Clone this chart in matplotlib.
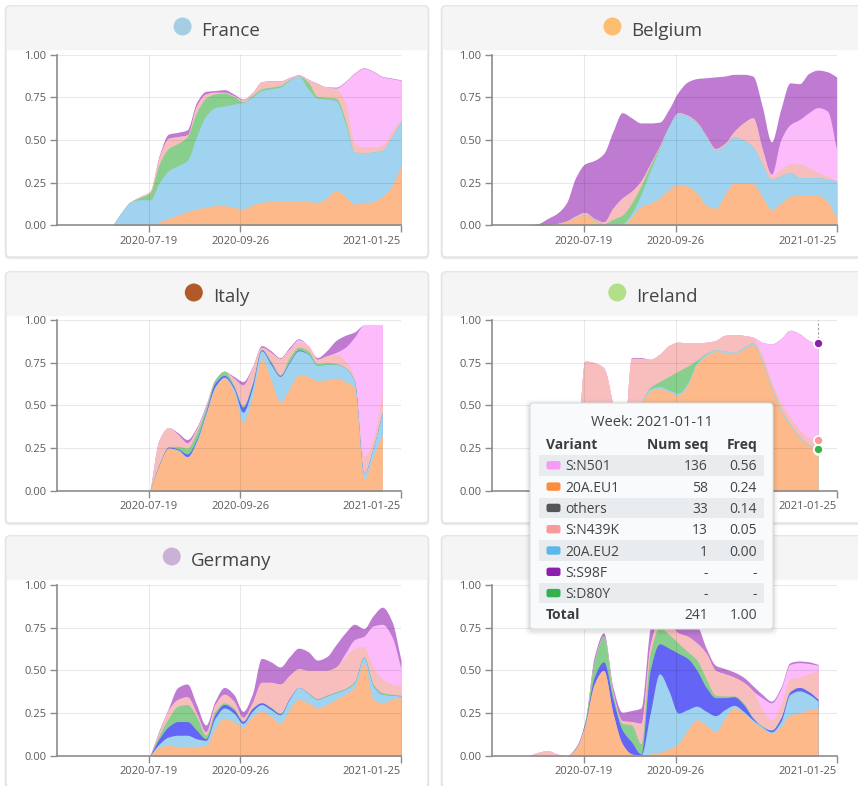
import numpy as np
import matplotlib
matplotlib.use("Agg")
import matplotlib.pyplot as plt
import matplotlib.dates as mdates
from matplotlib.patches import FancyBboxPatch, Rectangle, Circle

plt.rcParams["font.family"] = ["Open Sans", "DejaVu Sans"]

W, H = 858, 786

# ---------------------------------------------------------------- data
WEEK0 = np.datetime64("2020-05-11")
N_WEEKS = 38
WEEKS = WEEK0 + np.arange(N_WEEKS) * np.timedelta64(7, "D")

X_TICKS = ["2020-07-19", "2020-09-26", "2021-01-25"]
Y_TICKS = [0.0, 0.25, 0.50, 0.75, 1.00]

# stacking order, bottom to top
VARIANTS = ["20A.EU1", "20A.EU2", "S:L18F", "S:D80Y", "S:N439K", "S:N501", "S:S98F"]

FILL = {
    "20A.EU1": "#fdb98a",
    "20A.EU2": "#9fd3ef",
    "S:L18F": "#6464f6",
    "S:D80Y": "#88cf8d",
    "S:N439K": "#f8bebe",
    "S:N501": "#fcbcfc",
    "S:S98F": "#bf7ad2",
}
SOLID = {
    "20A.EU1": "#fd8d3c",
    "20A.EU2": "#5cb8ea",
    "S:L18F": "#2a2af0",
    "S:D80Y": "#34b04c",
    "S:N439K": "#f89a9a",
    "S:N501": "#f59af5",
    "S:S98F": "#8e1fae",
    "others": "#555555",
}

# France: weekly frequencies from week 6
FR_START = 6
FR_EU1 = [0, 0, 0, 0, 0, .02, .04, .06, .08, .095, .105, .115, .115, .105, .095, .12,
          .135, .14, .145, .145, .145, .14, .135, .16, .205, .17, .125, .13, .14, .17, .23, .35]
FR_EU2 = [0, .08, .14, .15, .15, .23, .28, .29, .30, .425, .535, .575, .585, .605, .625, .63,
          .655, .66, .665, .705, .73, .66, .61, .58, .525, .43, .305, .295, .29, .27, .29, .26]
FR_D80Y = [0, 0, 0, .015, .04, .11, .13, .13, .14, .14, .105, .08, .075, .045, .005, .01,
           .01, .01, .01, .005, 0, .04, .01, .01, .015, .02, 0, 0, 0, 0, 0, 0]
FR_N439K = [0, 0, 0, .005, .01, .04, .06, .04, .01, .04, .025, .01, .005, .005, .01, .015,
            .04, .035, .025, .01, .005, .015, .075, .06, .055, .10, .05, .035, .03, .03, .03, .01]
FR_N501 = [0, 0, 0, 0, 0, 0, 0, 0, 0, 0, 0, 0, 0, 0, 0, 0,
           0, 0, 0, 0, 0, 0, 0, 0, .005, .12, .41, .46, .44, .40, .31, .23]
FR_S98F = [0, 0, 0, 0, 0, .01, .025, .025, .03, .02, .015, .01, .015, .01, .005, .002,
           .002, .002, .002, .002, .002, .002, .002, .002, .005, .003, .003, .003, .003, .003, .003, .003]

# Belgium: from week 4
BE_START = 4
BE_EU1 = [0, 0, 0, .01, .025, .045, .06, .03, .005, 0, 0, .05, .11, .13, .16, .21, .24,
          .23, .19, .12, .10, .18, .25, .25, .245, .17, .09, .13, .17, .18, .18, .175, .14, .04]
BE_EU2 = [0, 0, 0, 0, 0, 0, .005, .005, 0, .005, .01, .02, .07, .19, .29, .37, .415,
          .41, .41, .40, .34, .29, .27, .25, .215, .19, .18, .16, .14, .10, .10, .105, .13, .22]
BE_D80Y = [0, 0, 0, 0, 0, 0, 0, 0, .005, .03, .05, .06, .05, .03, .01, 0, 0,
           0, 0, 0, 0, 0, 0, 0, 0, 0, 0, 0, 0, 0, 0, 0, 0, 0]
BE_N439K = [0, 0, 0, 0, 0, .01, .01, .005, .01, .065, .10, .07, .03, .01, .005, 0, .005,
            .005, .005, .005, .01, .01, .03, .10, .17, .09, .02, .04, .05, .08, .06, .03, .02, 0]
BE_N501 = [0, 0, 0, 0, 0, 0, 0, 0, 0, 0, 0, 0, 0, 0, 0, 0, 0,
           0, 0, 0, 0, 0, 0, 0, 0, 0, .01, .17, .23, .26, .32, .38, .38, .18]
BE_S98F = [0, .01, .04, .06, .105, .225, .285, .34, .40, .45, .50, .43, .34, .24, .14, .10, .12,
           .195, .255, .34, .42, .395, .335, .285, .245, .25, .19, .18, .245, .21, .23, .22, .23, .43]

# Italy: from week 10
IT_START = 10
IT_EU1 = [0, .15, .25, .235, .195, .28, .44, .60, .66, .58, .40, .55, .77,
          .65, .52, .60, .68, .67, .645, .65, .66, .64, .60, .07, .20, .33]
IT_EU2 = [0, 0, 0, .005, .005, .01, .01, .01, .005, .02, .06, .05, .05,
          .09, .15, .15, .14, .13, .09, .09, .08, .08, .04, .03, .05, .13]
IT_L18F = [0, .005, .005, .005, .015, .01, .01, .02, .01, .01, .03, .02, .005,
           .01, .005, .005, .005, 0, 0, 0, 0, 0, 0, 0, 0, 0]
IT_D80Y = [0, .005, .005, .015, .035, .04, .02, .02, .025, .01, .01, .01, .005,
           .01, .005, .025, .015, .02, .01, .01, .005, 0, 0, 0, 0, 0]
IT_N439K = [0, .14, .11, .07, .03, .02, .01, 0, 0, .04, .12, .09, .01,
            .05, .095, .05, .03, .03, .025, .04, .055, .04, .02, .10, .05, .12]
IT_N501 = [0, 0, 0, 0, 0, 0, 0, 0, 0, 0, 0, 0, 0,
           0, 0, 0, .015, 0, 0, 0, .01, .08, .24, .77, .67, .39]
IT_S98F = [0, 0, 0, .01, .02, .01, .01, 0, 0, .01, .02, .005, .01,
           .01, .005, .01, .005, 0, .01, .03, .07, .07, .03, 0, 0, 0]

# Ireland: from week 9, last week is 2021-01-11
IE_START = 9
IE_EU1 = [0, 0, 0, 0, 0, .05, .35, .50, .585, .60, .58, .56, .62, .74,
          .79, .815, .81, .80, .83, .855, .75, .60, .47, .38, .31, .265, .241]
IE_EU2 = [0, 0, 0, 0, 0, 0, 0, .01, .01, .01, .01, .012, .01, .01,
          .01, .01, .01, .01, .01, .01, .01, .01, .01, .008, .006, .005, .004]
IE_D80Y = [0, 0, 0, 0, 0, 0, 0, 0, .01, .03, .08, .128, .10, .015,
           .005, 0, 0, 0, 0, 0, 0, 0, 0, 0, 0, 0, 0]
IE_N439K = [0, .76, .75, .72, .50, .15, .425, .265, .165, .16, .18, .17, .135, .10,
            .065, .055, .09, .105, .07, .03, .04, .03, .04, .042, .044, .04, .054]
IE_N501 = [0, 0, 0, 0, 0, 0, 0, 0, 0, 0, 0, 0, 0, 0,
           0, 0, 0, 0, 0, .005, .07, .22, .37, .51, .56, .57, .564]
IE_S98F = [0, 0, 0, 0, 0, 0, .005, .005, 0, 0, 0, 0, 0, 0,
           0, 0, 0, 0, 0, 0, 0, 0, 0, 0, 0, 0, 0]

# Germany: from week 10
DE_START = 10
DE_EU1 = [0, .05, .06, .055, .055, .055, .06, .16, .22, .20, .17, .23, .26, .23,
          .19, .27, .33, .31, .28, .30, .33, .36, .40, .545, .33, .31, .33, .345]
DE_EU2 = [0, .02, .05, .065, .065, .045, .03, .06, .06, .05, .02, .03, .04, .04,
          .05, .06, .07, .055, .05, .05, .04, .03, .03, .03, .08, .05, .025, .005]
DE_L18F = [0, .03, .06, .08, .08, .05, .01, .02, .02, .02, .01, .015, .01, .01,
           .005, .005, 0, 0, 0, 0, 0, 0, 0, 0, 0, 0, 0, 0]
DE_D80Y = [0, .02, .05, .09, .10, .08, .02, .02, .01, .01, .005, .005, 0, .005,
           .005, 0, 0, .005, .005, .005, .005, .005, .005, .005, .01, .01, .005, .005]
DE_N439K = [0, .02, .05, .04, .045, .02, .02, .04, .05, .04, .02, .03, .12, .145,
            .17, .135, .11, .13, .165, .145, .145, .185, .195, .06, .10, .08, .06, .055]
DE_N501 = [0, 0, 0, 0, 0, 0, 0, 0, 0, 0, 0, 0, 0, 0,
           0, 0, 0, 0, 0, 0, 0, .02, .05, .06, .24, .32, .28, .10]
DE_S98F = [0, .01, .01, .07, .075, .05, .04, .02, .04, .04, .035, .05, .14, .12,
           .10, .11, .12, .11, .06, .08, .13, .12, .09, .045, .06, .10, .09, .05]

# sixth country: from week 4, last week is 2021-01-11
P6_START = 4
P6_EU1 = [0, 0, 0, 0, 0, .04, .18, .42, .50, .25, .07, .01, 0, .01, .02, .04,
          .07, .15, .21, .18, .14, .22, .28, .25, .20, .16, .13, .17, .24, .25, .27, .28]
P6_EU2 = [0, 0, 0, 0, 0, 0, 0, 0, 0, 0, 0, 0, .005, .24, .46, .34,
          .18, .12, .08, .08, .095, .05, .015, .01, .01, .01, .01, .03, .12, .13, .09, .04]
P6_L18F = [0, 0, 0, 0, 0, 0, .01, .04, .05, .08, .08, .07, .005, .25, .175, .25,
           .35, .30, .21, .14, .105, .07, .05, .04, .01, 0, .01, .02, .015, .02, .015, .01]
P6_D80Y = [0, 0, 0, 0, 0, 0, .01, .09, .15, .03, .04, .10, .06, .10, .095, .08,
           .06, .04, .06, .05, .015, .01, .005, .01, .005, .005, 0, 0, 0, 0, 0, 0]
P6_N439K = [0, .02, .03, .01, 0, 0, 0, 0, 0, .01, .015, .02, .12, .05, .05, .07,
            .06, .09, .10, .15, .145, .13, .11, .12, .155, .095, .06, .08, .075, .06, .105, .17]
P6_N501 = [0, 0, 0, 0, 0, 0, 0, 0, 0, 0, 0, 0, 0, 0, 0, 0,
           0, 0, 0, 0, 0, 0, 0, 0, 0, .07, .10, .09, .085, .085, .06, .03]
P6_S98F = [0, 0, 0, 0, 0, .01, 0, .03, .02, .03, .05, .065, .09, .10, .10, .10,
           .13, .08, .10, .03, .03, .03, .03, .03, .03, .02, .01, .01, .01, .01, .01, .005]

# hover tooltip for Ireland, week 2021-01-11
TIP_WEEK = "2021-01-11"
TIP_VARIANTS = ["S:N501", "20A.EU1", "others", "S:N439K", "20A.EU2", "S:S98F", "S:D80Y"]
TIP_COUNTS = [136, 58, 33, 13, 1, None, None]
TIP_TOTAL = 241

# Ireland's last week is drawn from the same counts the tooltip reports
_ie_last = {"20A.EU1": IE_EU1, "20A.EU2": IE_EU2, "S:N439K": IE_N439K,
            "S:N501": IE_N501, "S:S98F": IE_S98F, "S:D80Y": IE_D80Y}
for _name, _cnt in zip(TIP_VARIANTS, TIP_COUNTS):
    if _name in _ie_last:
        _ie_last[_name][-1] = (_cnt or 0) / TIP_TOTAL

PANELS = [
    ("France", "#a6cee3", FR_START,
     {"20A.EU1": FR_EU1, "20A.EU2": FR_EU2, "S:D80Y": FR_D80Y,
      "S:N439K": FR_N439K, "S:N501": FR_N501, "S:S98F": FR_S98F}),
    ("Belgium", "#fdbf6f", BE_START,
     {"20A.EU1": BE_EU1, "20A.EU2": BE_EU2, "S:D80Y": BE_D80Y,
      "S:N439K": BE_N439K, "S:N501": BE_N501, "S:S98F": BE_S98F}),
    ("Italy", "#b15928", IT_START,
     {"20A.EU1": IT_EU1, "20A.EU2": IT_EU2, "S:L18F": IT_L18F, "S:D80Y": IT_D80Y,
      "S:N439K": IT_N439K, "S:N501": IT_N501, "S:S98F": IT_S98F}),
    ("Ireland", "#b2df8a", IE_START,
     {"20A.EU1": IE_EU1, "20A.EU2": IE_EU2, "S:D80Y": IE_D80Y,
      "S:N439K": IE_N439K, "S:N501": IE_N501, "S:S98F": IE_S98F}),
    ("Germany", "#cab2d6", DE_START,
     {"20A.EU1": DE_EU1, "20A.EU2": DE_EU2, "S:L18F": DE_L18F, "S:D80Y": DE_D80Y,
      "S:N439K": DE_N439K, "S:N501": DE_N501, "S:S98F": DE_S98F}),
    (None, None, P6_START,
     {"20A.EU1": P6_EU1, "20A.EU2": P6_EU2, "S:L18F": P6_L18F, "S:D80Y": P6_D80Y,
      "S:N439K": P6_N439K, "S:N501": P6_N501, "S:S98F": P6_S98F}),
]

# ---------------------------------------------------------------- layout (pixels)
CARD_X = [6, 442]
CARD_Y = [6, 272, 536]
CARD_W, CARD_H = 422, 251
HEADER_H = 43.5
PLOT_X = [(57, 401), (491.7, 836.7)]
PLOT_Y = [(54.7, 225.3), (320, 490.7), (585, 755.7)]

# tooltip box (pixels)
TX, TY, TW, TH = 530, 403, 243, 226


def monotone(x, y, xs):
    """Monotone cubic Hermite curve through (x, y), evaluated at xs."""
    x = np.asarray(x, float)
    y = np.asarray(y, float)
    h = np.diff(x)
    d = np.diff(y) / h
    n = len(x)
    m = np.zeros(n)
    m[0], m[-1] = d[0], d[-1]
    for i in range(1, n - 1):
        if d[i - 1] * d[i] <= 0:
            m[i] = 0.0
        else:
            w1 = 2 * h[i] + h[i - 1]
            w2 = h[i] + 2 * h[i - 1]
            m[i] = (w1 + w2) / (w1 / d[i - 1] + w2 / d[i])
    if d[0] == 0:
        m[0] = 0.0
    if d[-1] == 0:
        m[-1] = 0.0
    idx = np.clip(np.searchsorted(x, xs, side="right") - 1, 0, n - 2)
    t = (xs - x[idx]) / h[idx]
    t2, t3 = t * t, t * t * t
    return ((2 * t3 - 3 * t2 + 1) * y[idx] + (t3 - 2 * t2 + t) * h[idx] * m[idx]
            + (-2 * t3 + 3 * t2) * y[idx + 1] + (t3 - t2) * h[idx] * m[idx + 1])


fig = plt.figure(figsize=(W / 100, H / 100), dpi=100)
bg = fig.add_axes([0, 0, 1, 1])
bg.set_xlim(0, W)
bg.set_ylim(H, 0)
bg.axis("off")
renderer = fig.canvas.get_renderer()

XMIN = mdates.date2num(WEEKS[0])
XMAX = mdates.date2num(WEEKS[-1])

hover = None
for p, (name, dot_color, start, series) in enumerate(PANELS):
    col, row = p % 2, p // 2
    cx0, cy0 = CARD_X[col], CARD_Y[row]

    # card with soft shadow
    for k, a in ((3, 0.025), (2, 0.04), (1, 0.06)):
        bg.add_patch(FancyBboxPatch((cx0 - k * 0.6, cy0 - k * 0.3), CARD_W + k * 1.2, CARD_H + k * 1.3,
                                    boxstyle="round,pad=0,rounding_size=5",
                                    fc=(0, 0, 0, a), ec="none", zorder=1))
    bg.add_patch(FancyBboxPatch((cx0, cy0), CARD_W, CARD_H,
                                boxstyle="round,pad=0,rounding_size=4",
                                fc="white", ec="#e2e2e2", lw=0.9, zorder=2))
    bg.add_patch(FancyBboxPatch((cx0 + 0.6, cy0 + 0.6), CARD_W - 1.2, HEADER_H,
                                boxstyle="round,pad=0,rounding_size=3.5",
                                fc="#f5f5f5", ec="none", zorder=3))
    bg.add_patch(Rectangle((cx0 + 0.6, cy0 + HEADER_H - 4), CARD_W - 1.2, 4.6,
                           fc="#f5f5f5", ec="none", zorder=3))

    # header: coloured dot + country name, centred on the card
    if name:
        t = bg.text(0, cy0 + 30, name, fontsize=13.5, color="#454545",
                    ha="left", va="baseline", zorder=5)
        tw = t.get_window_extent(renderer).width
        centre = cx0 + CARD_W / 2
        dot_x = centre - (28 + tw) / 2 + 9
        t.set_x(dot_x + 19)
        bg.add_patch(Circle((dot_x, cy0 + 20.5), 9, fc=dot_color, ec="none", zorder=5))

    # plot area
    px0, px1 = PLOT_X[col]
    py0, py1 = PLOT_Y[row]
    ax = fig.add_axes([px0 / W, 1 - py1 / H, (px1 - px0) / W, (py1 - py0) / H])
    ax.set_xlim(XMIN, XMAX)
    ax.set_ylim(0, 1)
    ax.patch.set_alpha(0)

    n = len(next(iter(series.values())))
    xk = mdates.date2num(WEEKS[start:start + n])
    xs = np.linspace(xk[0], xk[-1], 700)
    cum = np.zeros(n)
    prev = np.zeros_like(xs)
    layers = []
    for v in VARIANTS:
        if v not in series:
            continue
        cum = cum + np.asarray(series[v], float)
        s = np.maximum(monotone(xk, cum, xs), prev)
        layers.append((v, s, cum.copy()))
        prev = s
    for v, s, _ in reversed(layers):
        ax.fill_between(xs, 0, s, color=FILL[v], lw=0, zorder=2)

    if name == "Ireland":
        hover = (ax, xk[-1], layers)

    ax.grid(True, color="black", alpha=0.085, lw=0.8, zorder=3)
    ax.set_axisbelow(False)
    for side in ("top", "right"):
        ax.spines[side].set_visible(False)
    for side in ("left", "bottom"):
        ax.spines[side].set_color("#8c8c8c")
        ax.spines[side].set_linewidth(1.2)
        ax.spines[side].set_zorder(4)
    ax.set_yticks(Y_TICKS)
    ax.set_yticklabels([f"{v:.2f}" for v in Y_TICKS])
    tick_pos = mdates.date2num(np.array(X_TICKS, dtype="datetime64[D]"))
    ax.set_xticks(tick_pos)
    ax.set_xticklabels(X_TICKS)
    ax.xaxis.get_ticklabels()[-1].set_horizontalalignment("right")
    ax.tick_params(axis="both", length=5, width=1, color="#8c8c8c",
                   labelsize=8, labelcolor="#5a5a5a", pad=2.5)
    if name == "Ireland":
        # date labels lying under the tooltip box are not shown
        for lab, xv in zip(ax.xaxis.get_ticklabels(), tick_pos):
            xpix = px0 + (xv - XMIN) / (XMAX - XMIN) * (px1 - px0)
            if TX < xpix < TX + TW:
                lab.set_visible(False)

# hover marker on Ireland at the tooltip week
ax, xh, layers = hover
top = layers[-1][2][-1]
ax.plot([xh, xh], [top, 1.0], color="#9a9a9a", lw=0.8, ls=(0, (2, 2)), zorder=5)
for v, _, c in layers:
    ax.plot([xh], [c[-1]], "o", ms=6.5, mfc=SOLID[v], mec="white", mew=1.2,
            zorder=6, clip_on=False)

# tooltip overlay
ov = fig.add_axes([0, 0, 1, 1])
ov.set_xlim(0, W)
ov.set_ylim(H, 0)
ov.axis("off")
ov.patch.set_alpha(0)

for k, a in ((5, 0.02), (3.5, 0.03), (2, 0.05)):
    ov.add_patch(FancyBboxPatch((TX - k, TY - k + 1.5), TW + 2 * k, TH + 2 * k,
                                boxstyle="round,pad=0,rounding_size=6",
                                fc=(0, 0, 0, a), ec="none", zorder=1))
ov.add_patch(FancyBboxPatch((TX, TY), TW, TH, boxstyle="round,pad=0,rounding_size=4",
                            fc="#f9fafb", ec="#dadde0", lw=0.8, zorder=2))

ov.text(TX + TW / 2 + 0.5, 421 + 5.2, f"Week: {TIP_WEEK}", fontsize=10.5, color="#444444",
        ha="center", va="baseline", zorder=4)
HEAD_Y = 444
ov.text(546, HEAD_Y + 5, "Variant", fontsize=10, fontweight="bold", color="#3d3d3d",
        ha="left", va="baseline", zorder=4)
ov.text(708, HEAD_Y + 5, "Num seq", fontsize=10, fontweight="bold", color="#3d3d3d",
        ha="right", va="baseline", zorder=4)
ov.text(757, HEAD_Y + 5, "Freq", fontsize=10, fontweight="bold", color="#3d3d3d",
        ha="right", va="baseline", zorder=4)

ROW0, ROW_DY = 465.3, 21.3
for i, (v, c) in enumerate(zip(TIP_VARIANTS, TIP_COUNTS)):
    yc = ROW0 + i * ROW_DY
    if i % 2 == 0:
        ov.add_patch(Rectangle((539, yc - 10.3), 225, 20.6, fc="#e9ecef", ec="none", zorder=3))
    ov.add_patch(FancyBboxPatch((546.5, yc - 4.2), 14, 8.4,
                                boxstyle="round,pad=0,rounding_size=2.2",
                                fc=SOLID[v], ec="none", zorder=4))
    ov.text(565, yc + 5, v, fontsize=10, color="#444444", ha="left", va="baseline", zorder=4)
    num = "-" if c is None else f"{c}"
    frq = "-" if c is None else f"{c / TIP_TOTAL:.2f}"
    ov.text(708, yc + 5, num, fontsize=10, color="#444444", ha="right", va="baseline", zorder=4)
    ov.text(757, yc + 5, frq, fontsize=10, color="#444444", ha="right", va="baseline", zorder=4)

yt = ROW0 + len(TIP_VARIANTS) * ROW_DY
ov.text(546, yt + 5, "Total", fontsize=10, fontweight="bold", color="#3d3d3d",
        ha="left", va="baseline", zorder=4)
ov.text(708, yt + 5, f"{TIP_TOTAL}", fontsize=10, color="#444444", ha="right", va="baseline", zorder=4)
ov.text(757, yt + 5, f"{sum(c or 0 for c in TIP_COUNTS) / TIP_TOTAL:.2f}", fontsize=10,
        color="#444444", ha="right", va="baseline", zorder=4)

fig.savefig("out.png", dpi=100)
